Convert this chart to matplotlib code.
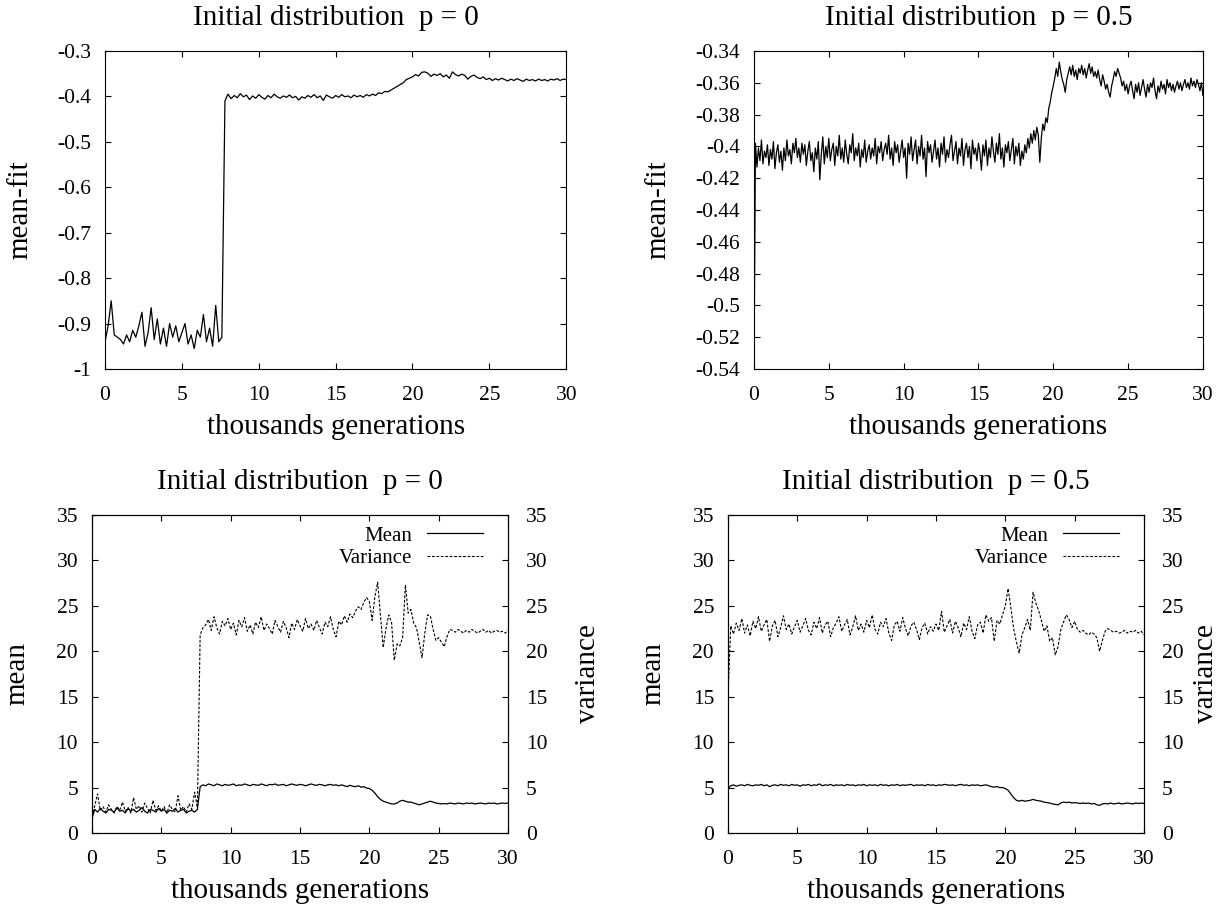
import numpy as np
import matplotlib
matplotlib.use('Agg')
import matplotlib.pyplot as plt
from matplotlib.ticker import FuncFormatter

plt.rcParams['font.family'] = ['Liberation Serif', 'DejaVu Serif']
plt.rcParams['axes.unicode_minus'] = False

# values, one sample every 0.2 thousand generations (0..30)
fit_p0 = [
    -0.94, -0.905, -0.85, -0.925, -0.93, -0.935, -0.945, -0.925, -0.94, -0.915,
    -0.93, -0.905, -0.875, -0.95, -0.92, -0.865, -0.935, -0.89, -0.945, -0.91,
    -0.95, -0.9, -0.93, -0.905, -0.94, -0.92, -0.9, -0.945, -0.925, -0.955,
    -0.915, -0.93, -0.88, -0.94, -0.91, -0.95, -0.86, -0.94, -0.93, -0.41,
    -0.395, -0.405, -0.398, -0.403, -0.394, -0.401, -0.397, -0.407, -0.399, -0.404,
    -0.396, -0.402, -0.406, -0.398, -0.403, -0.395, -0.401, -0.404, -0.399, -0.402,
    -0.397, -0.403, -0.400, -0.408, -0.401, -0.404, -0.398, -0.402, -0.396, -0.403,
    -0.399, -0.409, -0.397, -0.401, -0.404, -0.398, -0.402, -0.396, -0.401, -0.399,
    -0.403, -0.397, -0.401, -0.398, -0.402, -0.396, -0.399, -0.395, -0.398, -0.392,
    -0.394, -0.389, -0.39, -0.386, -0.382, -0.378, -0.374, -0.37, -0.363, -0.36,
    -0.357, -0.352, -0.355, -0.347, -0.346, -0.349, -0.356, -0.351, -0.354, -0.35,
    -0.357, -0.353, -0.36, -0.346, -0.352, -0.355, -0.351, -0.354, -0.362, -0.356,
    -0.353, -0.358, -0.361, -0.357, -0.363, -0.36, -0.365, -0.361, -0.364, -0.36,
    -0.363, -0.366, -0.362, -0.365, -0.361, -0.364, -0.367, -0.362, -0.365, -0.363,
    -0.366, -0.362, -0.365, -0.363, -0.366, -0.362, -0.364, -0.361, -0.365, -0.362,
    -0.363,
]

# this one is noisier, read every 0.1 thousand generations
fit_p5 = [
    -0.545, -0.398, -0.413, -0.401, -0.409, -0.396, -0.411, -0.403, -0.407, -0.399,
    -0.412, -0.402, -0.408, -0.397, -0.414, -0.404, -0.399, -0.41, -0.403, -0.415,
    -0.401, -0.409, -0.396, -0.406, -0.402, -0.411, -0.398, -0.404, -0.395, -0.407,
    -0.401, -0.41, -0.398, -0.405, -0.399, -0.412, -0.403, -0.397, -0.409, -0.404,
    -0.416, -0.401, -0.408, -0.397, -0.421, -0.405, -0.394, -0.411, -0.4, -0.407,
    -0.395, -0.409, -0.402, -0.398, -0.412, -0.4, -0.406, -0.393, -0.408, -0.401,
    -0.41, -0.396, -0.405, -0.411, -0.399, -0.404, -0.392, -0.409, -0.401, -0.406,
    -0.398, -0.413, -0.402, -0.407, -0.396, -0.41, -0.403, -0.399, -0.408, -0.401,
    -0.406, -0.395, -0.411, -0.4, -0.404, -0.397, -0.409, -0.402, -0.398, -0.405,
    -0.393, -0.408, -0.401, -0.412, -0.397, -0.404, -0.399, -0.41, -0.403, -0.396,
    -0.407, -0.401, -0.42, -0.398, -0.405, -0.394, -0.409, -0.402, -0.396, -0.411,
    -0.4, -0.406, -0.393, -0.408, -0.401, -0.419, -0.397, -0.404, -0.399, -0.41,
    -0.403, -0.396, -0.408, -0.401, -0.413, -0.398, -0.405, -0.394, -0.41, -0.402,
    -0.407, -0.399, -0.393, -0.409, -0.403, -0.397, -0.411, -0.401, -0.406, -0.395,
    -0.412, -0.402, -0.398, -0.407, -0.4, -0.414, -0.396, -0.405, -0.401, -0.409,
    -0.398, -0.404, -0.415, -0.399, -0.406, -0.396, -0.412, -0.401, -0.407, -0.394,
    -0.403, -0.41, -0.398, -0.405, -0.392, -0.408, -0.401, -0.413, -0.399, -0.404,
    -0.397, -0.409, -0.402, -0.395, -0.411, -0.4, -0.406, -0.398, -0.412, -0.403,
    -0.408, -0.399, -0.404, -0.395, -0.401, -0.392, -0.398, -0.39, -0.396, -0.388,
    -0.393, -0.41, -0.395, -0.386, -0.39, -0.382, -0.385, -0.376, -0.372, -0.366,
    -0.362, -0.357, -0.351, -0.356, -0.347, -0.353, -0.358, -0.361, -0.366, -0.358,
    -0.354, -0.35, -0.355, -0.349, -0.356, -0.352, -0.358, -0.351, -0.354, -0.349,
    -0.355, -0.351, -0.357, -0.352, -0.348, -0.354, -0.35, -0.356, -0.353, -0.357,
    -0.352, -0.358, -0.362, -0.355, -0.359, -0.364, -0.361, -0.366, -0.369, -0.362,
    -0.358, -0.353, -0.356, -0.351, -0.354, -0.357, -0.362, -0.359, -0.365, -0.361,
    -0.367, -0.362, -0.359, -0.365, -0.37, -0.361, -0.366, -0.36, -0.368, -0.363,
    -0.358, -0.364, -0.369, -0.361, -0.366, -0.36, -0.363, -0.357, -0.365, -0.37,
    -0.362, -0.366, -0.359, -0.364, -0.361, -0.367, -0.358, -0.363, -0.36, -0.365,
    -0.361, -0.366, -0.362, -0.359, -0.364, -0.36, -0.365, -0.361, -0.358, -0.363,
    -0.36, -0.364, -0.357, -0.362, -0.359, -0.363, -0.358, -0.361, -0.365, -0.36,
    -0.368,
]

mean_p0 = [
    1.6, 2.6, 2.3, 2.7, 2.4, 2.2, 2.6, 2.5, 2.3, 2.8,
    2.4, 2.5, 2.2, 2.7, 2.4, 2.6, 2.3, 2.5, 2.8, 2.4,
    2.2, 2.6, 2.5, 2.3, 2.7, 2.4, 2.6, 2.2, 2.5, 2.4,
    2.7, 2.3, 2.5, 2.6, 2.2, 2.4, 2.5, 2.3, 2.6, 5.1,
    5.3, 5.2, 5.4, 5.3, 5.2, 5.4, 5.3, 5.2, 5.35, 5.25,
    5.3, 5.4, 5.2, 5.3, 5.25, 5.4, 5.3, 5.2, 5.35, 5.3,
    5.25, 5.4, 5.3, 5.2, 5.35, 5.3, 5.4, 5.25, 5.3, 5.35,
    5.2, 5.3, 5.4, 5.3, 5.25, 5.35, 5.3, 5.2, 5.3, 5.4,
    5.3, 5.25, 5.35, 5.3, 5.2, 5.3, 5.35, 5.25, 5.3, 5.2,
    5.3, 5.2, 5.1, 5.25, 5.15, 5.1, 5.2, 5.05, 5.1, 4.95,
    4.9, 4.7, 4.4, 4.0, 3.7, 3.5, 3.4, 3.3, 3.2, 3.2,
    3.3, 3.5, 3.6, 3.5, 3.4, 3.4, 3.3, 3.2, 3.1, 3.2,
    3.3, 3.4, 3.5, 3.4, 3.3, 3.25, 3.2, 3.25, 3.2, 3.3,
    3.25, 3.2, 3.3, 3.25, 3.2, 3.3, 3.25, 3.3, 3.2, 3.25,
    3.3, 3.25, 3.2, 3.3, 3.25, 3.3, 3.2, 3.25, 3.3, 3.25,
    3.3,
]

var_p0 = [
    1.8, 3.0, 4.3, 2.5, 2.9, 2.3, 3.1, 2.6, 2.2, 2.9,
    2.5, 3.4, 2.4, 2.8, 2.2, 3.9, 2.6, 3.0, 2.3, 3.3,
    2.7, 2.2, 3.6, 2.5, 3.0, 2.4, 2.9, 2.2, 3.1, 2.6,
    2.3, 4.1, 2.5, 2.9, 2.3, 3.2, 2.6, 4.5, 2.8, 21.8,
    22.6, 22.9, 23.5, 22.3, 23.8, 22.6, 21.9, 23.3, 22.8, 23.6,
    22.4, 23.1, 21.8, 23.4, 22.7, 23.7, 22.2, 22.9, 21.9, 23.2,
    22.6, 23.8, 22.3, 23.0, 22.5, 21.9, 23.4, 22.7, 22.1, 23.3,
    22.6, 21.5, 23.1, 22.4, 23.5, 22.8, 22.2, 23.6, 22.5, 23.0,
    22.3, 23.4, 22.6, 21.9, 23.2, 22.7, 23.8, 22.4, 21.6, 23.3,
    22.9, 23.9, 23.2, 24.1, 23.7, 24.4, 24.9, 24.6, 25.4, 25.9,
    25.5, 23.4, 26.0, 27.6, 24.0, 20.4, 22.5, 24.0, 23.2, 19.0,
    20.8, 20.6, 21.5, 27.3, 24.2, 24.6, 23.1, 22.6, 21.0, 19.3,
    22.0, 24.0, 23.9, 22.4, 21.2, 21.5, 21.0, 20.5, 21.6, 22.4,
    22.3, 22.1, 22.4, 22.2, 22.0, 22.3, 22.1, 22.4, 22.2, 22.0,
    22.2, 22.4, 22.1, 22.3, 22.0, 22.2, 22.3, 22.1, 22.2, 22.0,
    22.3,
]

mean_p5 = [
    4.9, 5.2, 5.3, 5.15, 5.25, 5.3, 5.2, 5.35, 5.25, 5.2,
    5.3, 5.25, 5.35, 5.2, 5.3, 5.1, 5.25, 5.3, 5.2, 5.35,
    5.25, 5.3, 5.2, 5.35, 5.25, 5.3, 5.15, 5.3, 5.25, 5.35,
    5.2, 5.3, 5.25, 5.4, 5.2, 5.3, 5.25, 5.35, 5.2, 5.3,
    5.25, 5.3, 5.2, 5.35, 5.25, 5.3, 5.2, 5.3, 5.25, 5.35,
    5.2, 5.3, 5.25, 5.3, 5.2, 5.35, 5.25, 5.3, 5.2, 5.3,
    5.25, 5.35, 5.2, 5.3, 5.25, 5.3, 5.35, 5.2, 5.3, 5.25,
    5.3, 5.2, 5.35, 5.25, 5.3, 5.2, 5.3, 5.25, 5.35, 5.3,
    5.25, 5.3, 5.2, 5.3, 5.35, 5.25, 5.3, 5.2, 5.3, 5.25,
    5.3, 5.2, 5.25, 5.3, 5.2, 5.1, 5.05, 5.1, 5.0, 5.0,
    4.9, 4.7, 4.3, 3.9, 3.6, 3.5, 3.6, 3.5, 3.55, 3.6,
    3.7, 3.6, 3.55, 3.5, 3.4, 3.35, 3.3, 3.2, 3.15, 3.1,
    3.3, 3.4, 3.35, 3.4, 3.3, 3.35, 3.3, 3.25, 3.3, 3.25,
    3.3, 3.2, 3.25, 3.1, 3.05, 3.2, 3.25, 3.2, 3.3, 3.2,
    3.25, 3.3, 3.2, 3.25, 3.3, 3.25, 3.2, 3.3, 3.25, 3.3,
    3.25,
]

var_p5 = [
    15.0, 22.8, 21.9, 23.1, 22.3, 23.6, 22.0, 22.9, 21.7, 23.3,
    22.5, 23.8, 22.2, 22.9, 23.5, 21.1, 22.8, 23.4, 21.6, 22.6,
    23.9, 22.4, 23.0, 21.9, 22.7, 23.4, 22.1, 22.8, 23.6, 22.3,
    21.8, 23.2, 22.5, 23.7, 22.0, 22.9, 23.3, 21.6, 22.6, 23.1,
    23.8, 22.2, 22.9, 23.5, 21.8, 22.7, 23.9, 22.3, 23.0, 22.1,
    23.4, 22.6, 24.0, 22.4, 21.9, 23.2, 22.7, 23.6, 22.0, 21.2,
    22.9, 23.3, 22.2, 23.7, 22.5, 21.7, 22.8, 23.2, 22.4, 21.3,
    22.6, 23.1, 21.9, 22.7, 22.2, 23.0, 22.3, 24.4, 22.1, 22.8,
    23.5, 22.0, 23.3, 22.6, 21.6, 23.1, 22.4, 23.8, 22.2, 21.4,
    22.9, 23.2, 22.0, 24.0, 23.3, 23.7, 21.1, 23.4, 23.0, 24.0,
    25.0, 26.9, 24.8, 22.5, 21.0, 19.8, 21.8, 22.6, 23.5, 22.3,
    26.5, 25.3, 24.5, 23.4, 22.2, 22.8, 21.1, 21.5, 19.6, 20.5,
    22.4, 23.2, 24.0, 23.5, 22.6, 23.3, 22.4, 22.1, 22.3, 22.0,
    21.8, 22.1, 21.9, 21.5, 20.0, 21.2, 22.2, 22.5, 22.3, 22.1,
    22.2, 22.0, 22.1, 22.3, 22.0, 22.2, 22.1, 22.3, 22.0, 22.2,
    21.8,
]

x_ticks = [0, 5, 10, 15, 20, 25, 30]
fit_p0_ticks = [-1, -0.9, -0.8, -0.7, -0.6, -0.5, -0.4, -0.3]
fit_p5_ticks = [-0.54, -0.52, -0.5, -0.48, -0.46, -0.44, -0.42, -0.4, -0.38, -0.36, -0.34]
mv_ticks = [0, 5, 10, 15, 20, 25, 30, 35]
titles = ['Initial distribution  p = 0', 'Initial distribution  p = 0.5']

TICK_FS = 15.5
LABEL_FS = 21
LEG_FS = 15


def gens(values):
    return np.linspace(0, 30, len(values))


def fmt(v, pos):
    return f'{v:g}'


def style_axis(ax, yticks, mirror_y=True):
    ax.set_xlim(0, 30)
    ax.set_ylim(yticks[0], yticks[-1])
    ax.set_xticks(x_ticks)
    ax.set_yticks(yticks)
    ax.yaxis.set_major_formatter(FuncFormatter(fmt))
    ax.tick_params(direction='in', length=4, width=0.8, top=True, right=mirror_y,
                   labelsize=TICK_FS, pad=10)
    ax.tick_params(axis='x', pad=12.5)
    for s in ax.spines.values():
        s.set_linewidth(0.8)
    ax.set_xlabel('thousands generations', fontsize=LABEL_FS, labelpad=6)


def fit_panel(fig, rect, values, yticks, title):
    ax = fig.add_axes(rect)
    ax.plot(gens(values), values, color='black', lw=0.9)
    style_axis(ax, yticks)
    ax.set_ylabel('mean-fit', fontsize=LABEL_FS, labelpad=17)
    ax.set_title(title, fontsize=LABEL_FS, pad=19)
    return ax


def mv_panel(fig, rect, mean, var, title, var_pad=20):
    ax = fig.add_axes(rect)
    ax2 = ax.twinx()
    l1, = ax.plot(gens(mean), mean, color='black', lw=0.9, label='Mean')
    l2, = ax2.plot(gens(var), var, color='black', lw=0.8, ls=(0, (2.5, 1.5)), label='Variance')
    style_axis(ax, mv_ticks, mirror_y=False)
    ax2.set_ylim(mv_ticks[0], mv_ticks[-1])
    ax2.set_yticks(mv_ticks)
    ax2.tick_params(direction='in', length=4, width=0.8, labelsize=TICK_FS, pad=13)
    ax.set_ylabel('mean', fontsize=LABEL_FS, labelpad=19)
    ax2.set_ylabel('variance', fontsize=LABEL_FS, labelpad=var_pad)
    ax.set_title(title, fontsize=LABEL_FS, pad=19)
    ax2.legend([l1, l2], ['Mean', 'Variance'], loc='upper right', bbox_to_anchor=(0.94, 0.965),
               frameon=False, markerfirst=False, fontsize=LEG_FS, handlelength=2.7,
               handletextpad=0.7, borderpad=0, borderaxespad=0, labelspacing=0.15)
    return ax, ax2


fig = plt.figure(figsize=(12.2, 9.1), dpi=100)

fit_panel(fig, [0.0861, 0.5945, 0.378, 0.3495], fit_p0, fit_p0_ticks, titles[0])
fit_panel(fig, [0.618, 0.5945, 0.368, 0.3495], fit_p5, fit_p5_ticks, titles[1])
mv_panel(fig, [0.0754, 0.0846, 0.341, 0.3495], mean_p0, var_p0, titles[0])
mv_panel(fig, [0.5967, 0.0846, 0.341, 0.3495], mean_p5, var_p5, titles[1], var_pad=7)

fig.savefig('out.png', dpi=100)
